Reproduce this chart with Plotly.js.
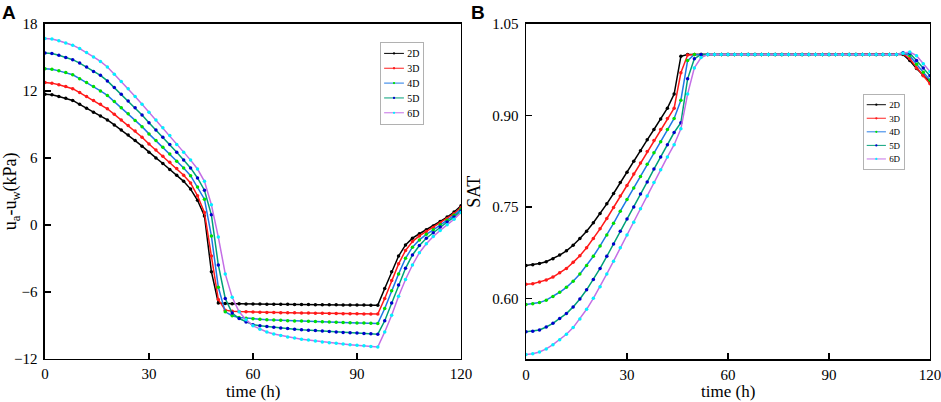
<!DOCTYPE html>
<html>
<head>
<meta charset="utf-8">
<script src="https://cdn.plot.ly/plotly-3.0.1.min.js"></script>
<style>html,body{margin:0;padding:0;background:#fff;}#chart{width:941px;height:402px;}</style>
</head>
<body>
<div id="chart"></div>
<script>
// time (h)
var hours = [0,2,4,6,8,10,12,14,16,18,20,22,24,26,28,30,32,34,36,38,40,42,44,46,48,50,52,54,56,58,60,62,64,66,68,70,72,74,76,78,80,82,84,86,88,90,92,94,96,98,100,102,104,106,108,110,112,114,116,118,120];
var seriesNames = ["2D","3D","4D","5D","6D"];
var xTicks = [0,30,60,90,120];
var yTicksA = [-12,-6,0,6,12,18];
var yTicksB = [0.6,0.75,0.9,1.05];
var yTickTextB = ["0.60","0.75","0.90","1.05"];

// Panel A: ua-uw (kPa)
var suction2D = [11.7,11.65,11.5,11.35,11.15,10.8,10.45,10.1,9.75,9.4,8.95,8.5,8.05,7.55,7.05,6.5,6.0,5.5,4.95,4.45,3.9,3.2,2.2,0.8,-4.2,-7.0,-7.05,-7.07,-7.08,-7.09,-7.1,-7.1,-7.11,-7.12,-7.12,-7.13,-7.14,-7.14,-7.15,-7.16,-7.16,-7.17,-7.17,-7.18,-7.18,-7.19,-7.19,-7.2,-7.2,-5.7,-4.2,-2.8,-1.8,-1.2,-0.8,-0.45,-0.1,0.3,0.7,1.15,1.7];
var suction3D = [12.75,12.7,12.55,12.4,12.2,11.85,11.5,11.15,10.8,10.4,9.9,9.4,8.9,8.4,7.85,7.25,6.7,6.15,5.6,5.05,4.45,3.75,2.6,1.1,-2.8,-6.7,-7.65,-7.75,-7.78,-7.8,-7.82,-7.83,-7.85,-7.86,-7.87,-7.88,-7.89,-7.9,-7.91,-7.92,-7.93,-7.94,-7.95,-7.96,-7.97,-7.98,-7.99,-8.0,-8.0,-6.6,-5.0,-3.5,-2.3,-1.5,-1.0,-0.6,-0.25,0.15,0.55,1.0,1.55];
var suction4D = [14.0,13.95,13.8,13.65,13.45,13.1,12.75,12.4,12.0,11.6,11.05,10.5,9.95,9.35,8.8,8.15,7.55,6.95,6.35,5.7,5.1,4.4,3.4,2.3,-1.0,-5.6,-7.8,-8.15,-8.3,-8.37,-8.42,-8.46,-8.5,-8.53,-8.56,-8.59,-8.61,-8.63,-8.65,-8.67,-8.69,-8.72,-8.74,-8.76,-8.78,-8.8,-8.81,-8.83,-8.85,-7.5,-5.9,-4.4,-3.0,-2.0,-1.35,-0.85,-0.45,0.0,0.4,0.85,1.4];
var suction5D = [15.4,15.35,15.2,15.0,14.8,14.5,14.15,13.75,13.4,12.9,12.3,11.7,11.1,10.5,9.85,9.15,8.5,7.85,7.2,6.5,5.8,5.1,4.2,3.1,0.9,-3.6,-6.6,-7.9,-8.4,-8.7,-8.95,-9.05,-9.12,-9.18,-9.24,-9.3,-9.35,-9.4,-9.44,-9.48,-9.52,-9.56,-9.6,-9.64,-9.67,-9.7,-9.73,-9.76,-9.8,-8.6,-7.0,-5.4,-3.9,-2.7,-1.85,-1.2,-0.7,-0.2,0.25,0.7,1.25];
var suction6D = [16.7,16.65,16.5,16.3,16.1,15.8,15.45,15.05,14.65,14.15,13.5,12.85,12.2,11.5,10.8,10.1,9.4,8.7,8.0,7.2,6.5,5.8,5.0,3.9,1.8,-1.1,-4.4,-6.5,-7.8,-8.5,-9.05,-9.35,-9.6,-9.78,-9.92,-10.05,-10.15,-10.25,-10.33,-10.42,-10.5,-10.56,-10.62,-10.68,-10.74,-10.8,-10.85,-10.9,-10.95,-9.6,-8.1,-6.4,-4.9,-3.6,-2.5,-1.7,-1.05,-0.5,0.0,0.5,1.1];

// Panel B: SAT
var sat2D = [0.654,0.655,0.657,0.66,0.665,0.671,0.678,0.687,0.698,0.71,0.724,0.739,0.755,0.772,0.79,0.807,0.825,0.842,0.86,0.877,0.894,0.912,0.935,0.997,1.0,1.0,1.0,1.0,1.0,1.0,1.0,1.0,1.0,1.0,1.0,1.0,1.0,1.0,1.0,1.0,1.0,1.0,1.0,1.0,1.0,1.0,1.0,1.0,1.0,1.0,1.0,1.0,1.0,1.0,1.0,1.0,1.0,0.99,0.977,0.966,0.955];
var sat3D = [0.623,0.624,0.627,0.63,0.635,0.642,0.649,0.659,0.67,0.683,0.698,0.714,0.731,0.749,0.768,0.785,0.804,0.822,0.841,0.859,0.877,0.895,0.912,0.97,0.999,1.0,1.0,1.0,1.0,1.0,1.0,1.0,1.0,1.0,1.0,1.0,1.0,1.0,1.0,1.0,1.0,1.0,1.0,1.0,1.0,1.0,1.0,1.0,1.0,1.0,1.0,1.0,1.0,1.0,1.0,1.0,1.001,0.993,0.978,0.965,0.952];
var sat4D = [0.59,0.591,0.593,0.597,0.603,0.61,0.618,0.628,0.64,0.654,0.669,0.686,0.704,0.723,0.743,0.762,0.781,0.8,0.82,0.839,0.857,0.877,0.895,0.925,0.99,1.0,1.0,1.0,1.0,1.0,1.0,1.0,1.0,1.0,1.0,1.0,1.0,1.0,1.0,1.0,1.0,1.0,1.0,1.0,1.0,1.0,1.0,1.0,1.0,1.0,1.0,1.0,1.0,1.0,1.0,1.0,1.002,0.998,0.984,0.971,0.958];
var sat5D = [0.545,0.546,0.548,0.553,0.559,0.567,0.575,0.586,0.599,0.614,0.631,0.649,0.669,0.689,0.71,0.73,0.75,0.771,0.791,0.812,0.832,0.852,0.872,0.888,0.96,0.993,1.0,1.0,1.0,1.0,1.0,1.0,1.0,1.0,1.0,1.0,1.0,1.0,1.0,1.0,1.0,1.0,1.0,1.0,1.0,1.0,1.0,1.0,1.0,1.0,1.0,1.0,1.0,1.0,1.0,1.0,1.003,1.002,0.99,0.978,0.965];
var sat6D = [0.508,0.509,0.512,0.517,0.524,0.532,0.541,0.552,0.566,0.582,0.6,0.619,0.64,0.661,0.683,0.704,0.725,0.747,0.768,0.79,0.811,0.832,0.852,0.878,0.935,0.978,0.995,1.0,1.0,1.0,1.0,1.0,1.0,1.0,1.0,1.0,1.0,1.0,1.0,1.0,1.0,1.0,1.0,1.0,1.0,1.0,1.0,1.0,1.0,1.0,1.0,1.0,1.0,1.0,1.0,1.0,1.002,1.004,0.998,0.985,0.972];

var lineColors = ["#000000","#ff1a1a","#1f78e6","#00a078","#c46ee6"];
var markerColors = ["#000000","#ff1a1a","#00e000","#0000cc","#00f0ff"];

var suctionSeries = [suction2D,suction3D,suction4D,suction5D,suction6D];
var satSeries = [sat2D,sat3D,sat4D,sat5D,sat6D];

var traces = [];
seriesNames.forEach(function(nm, i){
  traces.push({x: hours, y: suctionSeries[i], name: nm, type: "scatter", mode: "lines+markers",
    xaxis: "x", yaxis: "y", legend: "legend",
    line: {color: lineColors[i], width: 1.5}, marker: {color: markerColors[i], size: 3.5, symbol: "circle"}});
});
seriesNames.forEach(function(nm, i){
  traces.push({x: hours, y: satSeries[i], name: nm, type: "scatter", mode: "lines+markers",
    xaxis: "x2", yaxis: "y2", legend: "legend2",
    line: {color: lineColors[i], width: 1.5}, marker: {color: markerColors[i], size: 3.5, symbol: "circle"}});
});

var serif = "Liberation Serif";
function axisBase(){
  return {showline: true, mirror: true, linecolor: "#000", linewidth: 1.5, ticks: "inside", ticklen: 6,
    tickwidth: 1.5, tickcolor: "#000", showgrid: false, zeroline: false, ticklabeloverflow: "allow",
    tickfont: {family: serif, size: 15, color: "#000"}, ticklabelstandoff: 1};
}
var xa = axisBase(); xa.domain = [0.0478, 0.4899]; xa.range = [0, 120]; xa.tickvals = xTicks; xa.anchor = "y";
var ya = axisBase(); ya.domain = [0.1077, 0.9403]; ya.range = [-12, 18]; ya.tickvals = yTicksA;
ya.anchor = "x"; ya.ticklabelstandoff = 3;
ya.title = {text: "u<sub>a</sub>-u<sub>w</sub>(kPa)", font: {family: serif, size: 18, color: "#000"}};
var xb = axisBase(); xb.domain = [0.559, 0.9883]; xb.range = [0, 120]; xb.tickvals = xTicks; xb.anchor = "y2";
var yb = axisBase(); yb.domain = [0.1062, 0.9403]; yb.range = [0.5, 1.05]; yb.tickvals = yTicksB;
yb.ticktext = yTickTextB; yb.anchor = "x2"; yb.ticklabelstandoff = 3;
yb.title = {text: "SAT", font: {family: serif, size: 18, color: "#000"}};

var titleFont = {family: serif, size: 17, color: "#000"};
var layout = {
  width: 941, height: 402,
  font: {family: serif, color: "#000"},
  margin: {l: 0, r: 0, t: 0, b: 0, autoexpand: false},
  paper_bgcolor: "#fff", plot_bgcolor: "#fff",
  showlegend: true,
  xaxis: xa, yaxis: ya, xaxis2: xb, yaxis2: yb,
  legend: {x: 0.404, y: 0.8955, xanchor: "left", yanchor: "top", bgcolor: "#fff", bordercolor: "#888", borderwidth: 1,
    font: {family: serif, size: 15, color: "#000"}, itemwidth: 30, tracegroupgap: 0},
  legend2: {x: 0.917, y: 0.766, xanchor: "left", yanchor: "top", bgcolor: "#fff", bordercolor: "#888", borderwidth: 1,
    font: {family: serif, size: 14, color: "#000"}, itemwidth: 30, tracegroupgap: 0},
  annotations: [
    {text: "<b>A</b>", xref: "paper", yref: "paper", x: 0.0, y: 1.0, xanchor: "left", yanchor: "top", showarrow: false,
     font: {family: "Liberation Sans", size: 19, color: "#000"}},
    {text: "<b>B</b>", xref: "paper", yref: "paper", x: 0.4985, y: 1.0, xanchor: "left", yanchor: "top", showarrow: false,
     font: {family: "Liberation Sans", size: 19, color: "#000"}},
    {text: "time (h)", xref: "paper", yref: "paper", x: (0.0478 + 0.4899) / 2, y: 0, xanchor: "center", yanchor: "bottom",
     yshift: 0, borderpad: 0, showarrow: false, font: titleFont},
    {text: "time (h)", xref: "paper", yref: "paper", x: (0.559 + 0.9883) / 2, y: 0, xanchor: "center", yanchor: "bottom",
     yshift: 0, borderpad: 0, showarrow: false, font: titleFont}
  ]
};

// compact legend boxes, as in the original figure
function compactLegends(){
  var scales = {legend: 0.66, legend2: 0.64};
  Object.keys(scales).forEach(function(cls){
    document.querySelectorAll("g." + cls).forEach(function(g){
      var tr = g.getAttribute("transform") || "";
      if (tr.indexOf("scale") < 0) g.setAttribute("transform", tr + " scale(" + scales[cls] + ")");
    });
  });
}

Plotly.newPlot("chart", traces, layout, {displayModeBar: false, staticPlot: true}).then(compactLegends);
</script>
</body>
</html>
